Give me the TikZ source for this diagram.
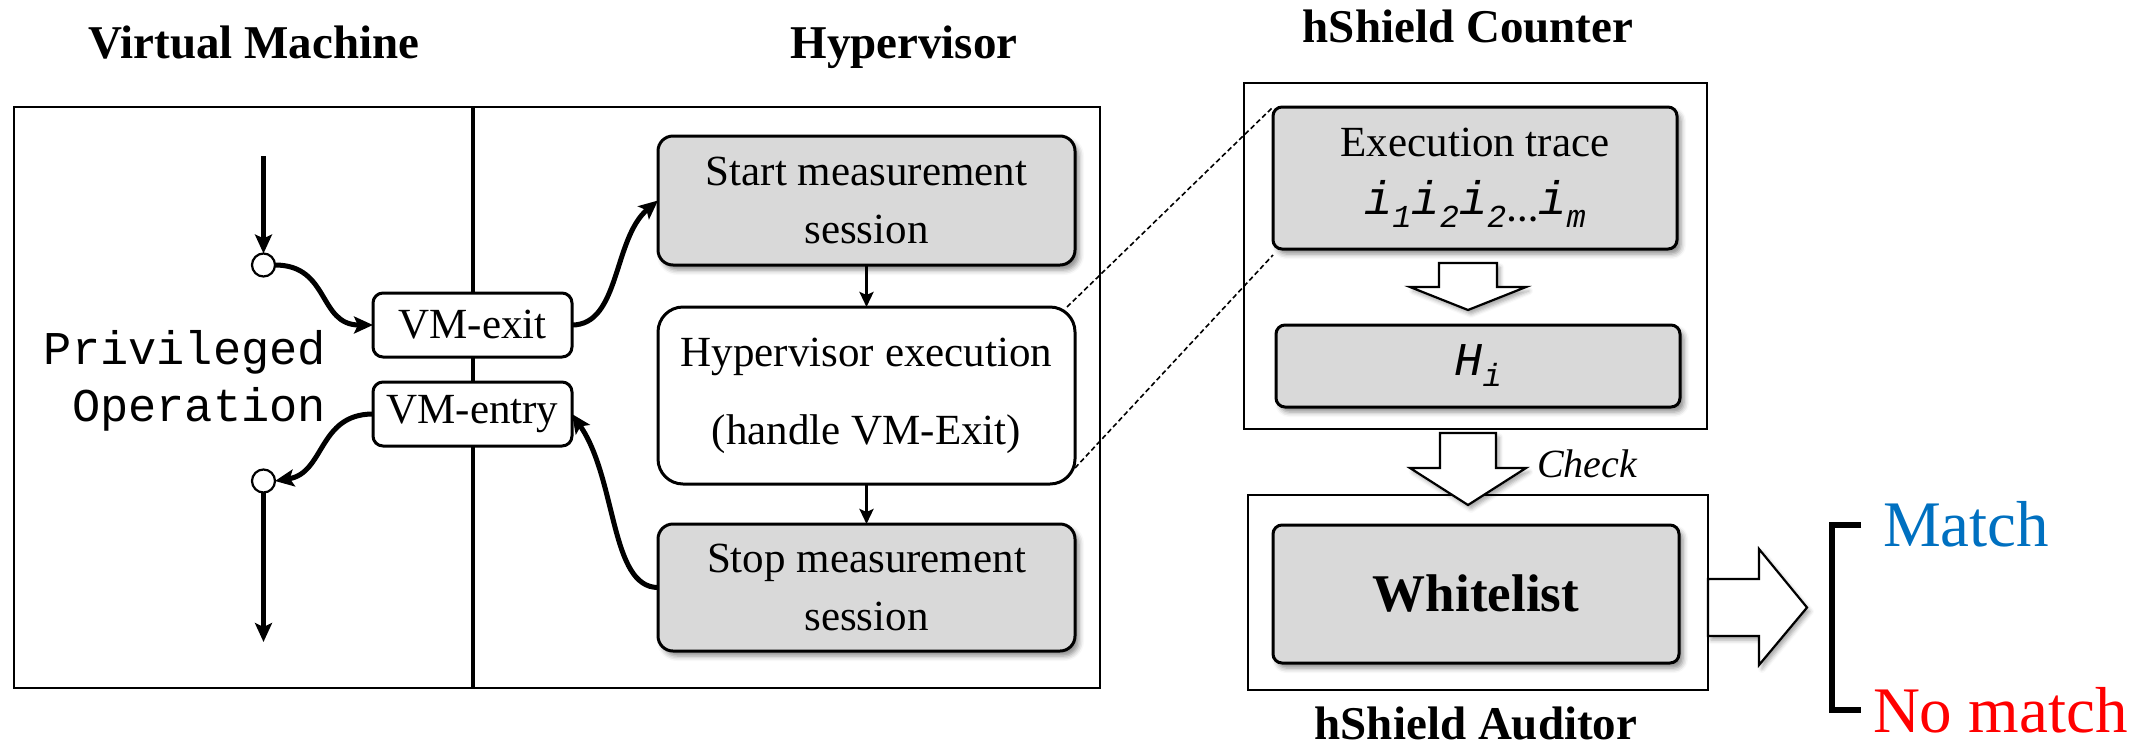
\documentclass[tikz,border=0pt]{standalone}
\usepackage{fontspec}
\setmainfont{Liberation Serif}
\setmonofont{Liberation Mono}
\usetikzlibrary{arrows.meta,shadows.blur,calc}
\definecolor{boxgray}{RGB}{217,217,217}
\definecolor{matchblue}{RGB}{0,112,192}
\definecolor{nomatchred}{RGB}{255,0,0}
% trace symbols in oblique typewriter type
\newcommand\tri{{\ttfamily\itshape\fontsize{47}{47}\selectfont i}}
\newcommand\trsub[1]{\raisebox{-13pt}{\ttfamily\itshape\fontsize{32}{32}\selectfont #1}}
\newcommand\trdots{\raisebox{-7pt}{\bfseries\fontsize{32}{32}\selectfont\ldots}}
\begin{document}
\begin{tikzpicture}[
  x=1pt, y=-1pt,
  every node/.style={inner sep=0pt, outer sep=0pt},
  frame/.style={draw, line width=2.5pt},
  shade/.style={blur shadow={shadow xshift=4pt, shadow yshift=-5pt, shadow blur radius=5pt, shadow opacity=45}},
  graybox/.style={draw, line width=3pt, fill=boxgray, rounded corners=15pt, shade},
  whitebox/.style={draw, line width=3pt, fill=white, rounded corners=25pt},
  vmbox/.style={draw, line width=3pt, fill=white, rounded corners=10pt,
                minimum width=199pt, minimum height=64pt, font=\fontsize{43}{50}\selectfont},
  boxtext/.style={font=\fontsize{43}{58}\selectfont, align=center},
  title/.style={font=\bfseries\fontsize{47}{56}\selectfont},
  flow/.style={line width=5pt, -{Stealth[length=19pt,width=17pt,inset=4pt]}},
  seqarrow/.style={line width=3.5pt, -{Stealth[length=15pt,width=14pt,inset=3pt]}},
  blockarrow/.style={draw, line width=2.2pt, fill=white, line join=miter,
                blur shadow={shadow xshift=3pt, shadow yshift=-4pt, shadow blur radius=4pt, shadow opacity=35}},
  zoomline/.style={line width=1.6pt, dash pattern=on 5pt off 3pt},
  dot/.style={circle, draw, line width=2.2pt, fill=white, minimum size=23pt},
]
\useasboundingbox (0,0) rectangle (2151,745);

% ---- column titles
\node[title, anchor=base] (tvm)  at (254,58)  {Virtual Machine};
\node[title, anchor=base] (thyp) at (904,58)  {Hypervisor};
\node[title, anchor=base] (tcnt) at (1468,42) {hShield Counter};
\node[title, anchor=base] (taud) at (1476,739) {hShield Auditor};

% ---- VM / hypervisor frame
\node[frame, minimum width=1086pt, minimum height=581pt] (vmframe) at (557,397.5) {};
\coordinate (divtop) at (473,107);
\coordinate (divbot) at (473,688);
\draw[line width=4pt] (divtop) -- (divbot);

% ---- guest side
\node[font=\ttfamily\fontsize{47}{57}\selectfont, align=right, anchor=east] (priv) at (326,381)
  {Privileged\\Operation};
\node[dot] (c1) at (263.5,265) {};
\node[dot] (c2) at (263.5,481) {};
\coordinate (inpt)  at (263.5,156);
\coordinate (outpt) at (263.5,642);

\node[vmbox] (vmexit)  at (472.5,325) {VM-exit};
\node[vmbox] (vmentry) at (472.5,414) {VM-entry};

% ---- hypervisor side
\node[graybox, boxtext, minimum width=417pt, minimum height=129pt] (start) at (866.5,200.5)
  {Start measurement\\session};
\node[whitebox, font=\fontsize{43}{78}\selectfont, align=center, minimum width=417pt, minimum height=177pt] (hyp) at (866.5,395.5)
  {Hypervisor execution\\(handle VM-Exit)};
\node[graybox, boxtext, minimum width=417pt, minimum height=127pt] (stop) at (866.5,587.5)
  {Stop measurement\\session};

% ---- counter and auditor
\node[frame, minimum width=463pt, minimum height=346pt] (counter) at (1475.5,256) {};
\node[graybox, boxtext, rounded corners=9pt, minimum width=404pt, minimum height=142pt] (trace) at (1475,178)
  {Execution trace\\\tri\trsub{1}\tri\trsub{2}\tri\trsub{2}\trdots\tri\trsub{m}};
\node[graybox, rounded corners=9pt, minimum width=404pt, minimum height=82pt] (hi) at (1478,366)
  {{\ttfamily\itshape\fontsize{47}{47}\selectfont H}\raisebox{-11pt}{\ttfamily\itshape\fontsize{32}{32}\selectfont i}};
\node[frame, minimum width=460pt, minimum height=195pt] (auditor) at (1478,592.5) {};
\node[graybox, rounded corners=9pt, minimum width=406pt, minimum height=138pt,
      font=\bfseries\fontsize{53}{60}\selectfont] (white) at (1476,594) {Whitelist};

% ---- zoom lines from the handler to the trace
\draw[zoomline] ([xshift=-8pt]hyp.north east) -- (trace.north west);
\draw[zoomline] ([yshift=16pt]hyp.south east) -- ([yshift=-6pt]trace.south west);

% ---- control flow
\draw[flow] (inpt) -- (c1.north);
\draw[flow] (c1.east) .. controls +(55,0) and +(-55,0) .. (vmexit.west);
\draw[flow] (vmexit.east) .. controls +(48,0) and +(-45,38) .. (start.west);
\draw[seqarrow] (start.south) -- (hyp.north);
\draw[seqarrow] (hyp.south) -- (stop.north);
\draw[flow] (stop.west) .. controls +(-48,0) and +(45,65) .. (vmentry.east);
\draw[flow] (vmentry.west) .. controls +(-55,0) and +(50,-8) .. (c2.east);
\draw[flow] (c2.south) -- (outpt);

% ---- block arrows
\coordinate (b1) at (1468,263);
\draw[blockarrow] (b1) -- ++(29,0) -- ++(0,24) -- ++(29,0) -- ++(-58,23) -- ++(-58,-23)
  -- ++(29,0) -- ++(0,-24) -- cycle;
\coordinate (b2) at (1468,433);
\draw[blockarrow] (b2) -- ++(28,0) -- ++(0,35) -- ++(30,0) -- ++(-58,37) -- ++(-58,-37)
  -- ++(30,0) -- ++(0,-35) -- cycle;
\node[font=\itshape\fontsize{40}{42}\selectfont, anchor=base west] (check) at (1537,477) {Check};
\coordinate (b3) at (1708,607.5);
\draw[blockarrow] (b3) -- ++(0,-28.5) -- ++(51,0) -- ++(0,-30) -- ++(48,58.5) -- ++(-48,57.5)
  -- ++(0,-29) -- ++(-51,0) -- cycle;

% ---- outcome bracket
\coordinate (brt) at (1861,525);
\coordinate (brb) at (1861,710);
\draw[line width=5.5pt] (brt) -- ++(-29,0) |- (brb);
\node[font=\fontsize{65}{70}\selectfont, text=matchblue, anchor=base west] (match) at (1883,546) {Match};
\node[font=\fontsize{65}{70}\selectfont, text=nomatchred, anchor=base west] (nomatch) at (1873,732) {No match};
\end{tikzpicture}
\end{document}
